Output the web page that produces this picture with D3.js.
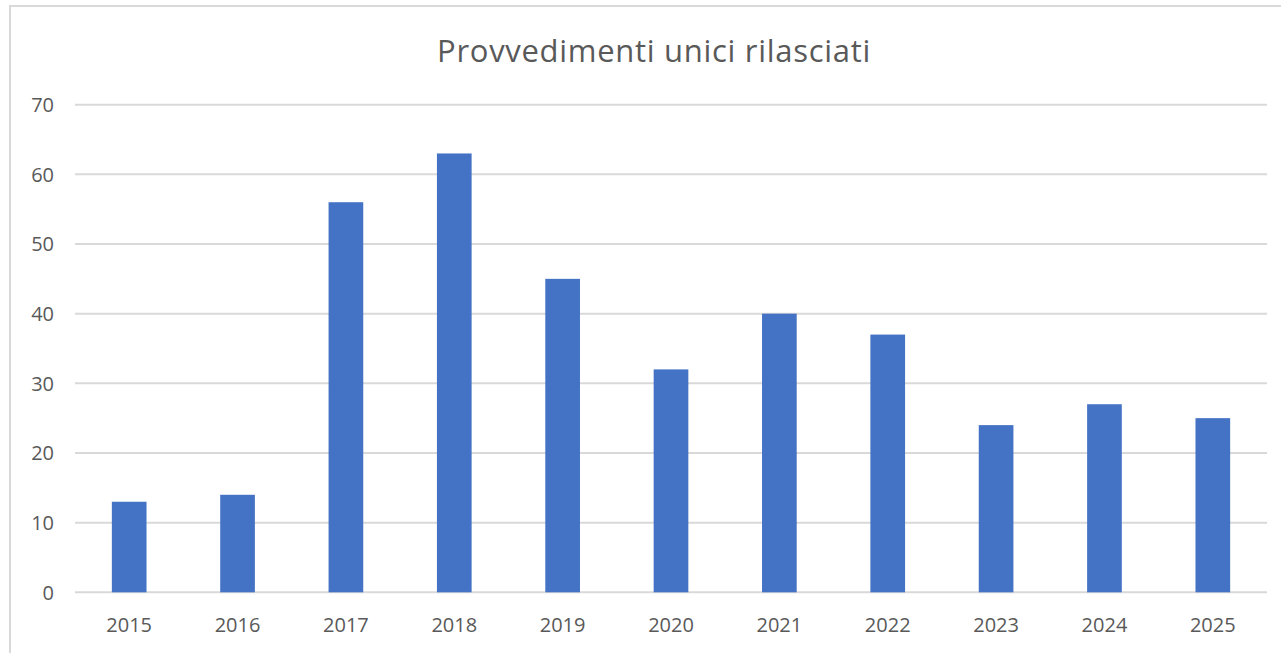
<!DOCTYPE html>
<html>
<head>
<meta charset="utf-8">
<script src="https://cdn.jsdelivr.net/npm/d3@7"></script>
<style>
  body { margin: 0; background: #fff; }
  text { font-family: "Open Sans", "Noto Sans", sans-serif; fill: #595959; }
</style>
</head>
<body>
<div id="chart"></div>
<script>
// data
const years = ['2015','2016','2017','2018','2019','2020','2021','2022','2023','2024','2025']
const values = [13, 14, 56, 63, 45, 32, 40, 37, 24, 27, 25]
const yTicks = [0, 10, 20, 30, 40, 50, 60, 70]
const title = 'Provvedimenti unici rilasciati'

const width = 1281, height = 653
const margin = {left: 75, right: 14, top: 105, bottom: 61}

let svg = d3.select('#chart')
  .append('svg')
  .attr('width', width)
  .attr('height', height)

// chart frame (only top and left visible in the picture)
svg.append('rect')
  .attr('x', 10).attr('y', 6)
  .attr('width', width + 20).attr('height', height + 20)
  .attr('fill', 'none')
  .attr('stroke', '#d9d9d9')
  .attr('stroke-width', 2)

let x = d3.scaleBand()
  .domain(years)
  .range([margin.left, width - margin.right])
  .paddingInner(0.68)
  .paddingOuter(0.34)

let y = d3.scaleLinear()
  .domain([0, 70])
  .range([height - margin.bottom + 0.3, margin.top - 0.3])

// gridlines
svg.append('g')
  .selectAll('line')
  .data(yTicks)
  .enter()
  .append('line')
  .attr('x1', margin.left)
  .attr('x2', width - margin.right)
  .attr('y1', d => y(d))
  .attr('y2', d => y(d))
  .attr('stroke', '#d9d9d9')
  .attr('stroke-width', 2)

// bars
svg.append('g')
  .selectAll('rect')
  .data(values)
  .enter()
  .append('rect')
  .attr('x', (d, i) => x(years[i]))
  .attr('width', x.bandwidth())
  .attr('y', d => y(d))
  .attr('height', d => y(0) - y(d))
  .attr('fill', '#4472c4')

// y labels
svg.append('g')
  .selectAll('text')
  .data(yTicks)
  .enter()
  .append('text')
  .attr('x', 54)
  .attr('y', d => y(d))
  .attr('dy', '0.36em')
  .attr('text-anchor', 'end')
  .attr('font-size', 20)
  .text(d => d)

// x labels
svg.append('g')
  .selectAll('text')
  .data(years)
  .enter()
  .append('text')
  .attr('x', d => x(d) + x.bandwidth() / 2)
  .attr('y', 632)
  .attr('text-anchor', 'middle')
  .attr('font-size', 20)
  .text(d => d)

svg.append('text')
  .attr('x', 654)
  .attr('y', 62)
  .attr('text-anchor', 'middle')
  .attr('font-size', 31)
  .attr('letter-spacing', 0.7)
  .text(title)
</script>
</body>
</html>
